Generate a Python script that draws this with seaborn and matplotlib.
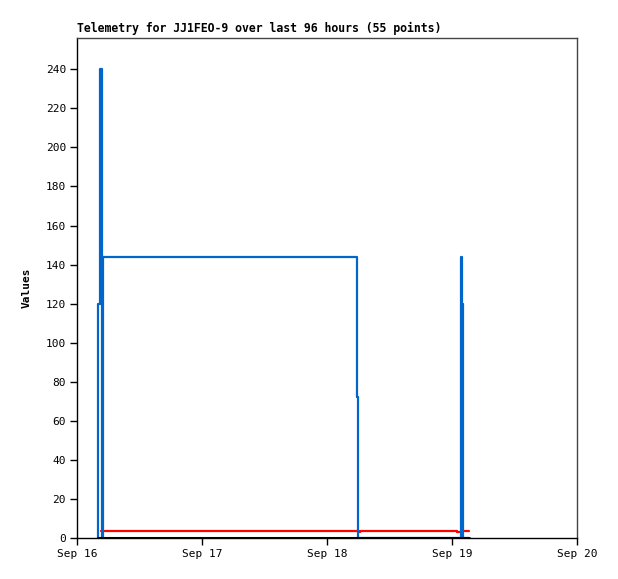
import pandas as pd
import matplotlib
matplotlib.use("Agg")
import matplotlib.pyplot as plt
import matplotlib.dates as mdates
import seaborn as sns

# hours after Sep 16 00:00
start = pd.Timestamp("2024-09-16 00:00")
blue_hours = [3.98, 4.03, 4.42, 4.72, 5.00, 53.76, 53.95, 73.73, 73.92, 74.11, 75.26]
blue_vals = [0, 120, 240, 0, 144, 72, 0, 144, 120, 0, 0]
red_hours = [4.60, 53.95, 54.40, 72.90, 73.70, 75.30]
red_vals = [3.7, 3.2, 3.7, 3.2, 3.7, 3.7]
black_hours = [3.98, 75.26]
black_vals = [0, 0]

def frame(hours, vals):
    return pd.DataFrame({"time": start + pd.to_timedelta(hours, unit="h"), "value": vals})

blue = frame(blue_hours, blue_vals)
red = frame(red_hours, red_vals)
black = frame(black_hours, black_vals)

sns.set_style("white")
plt.rcParams["font.family"] = ["DejaVu Sans Mono"]
plt.rcParams["text.color"] = "black"
plt.rcParams["xtick.color"] = "black"
plt.rcParams["ytick.color"] = "black"
plt.rcParams["axes.labelcolor"] = "black"

fig = plt.figure(figsize=(6.18, 5.79), dpi=100)
ax = fig.add_axes([77 / 618, 1 - 538 / 579, 500 / 618, 500 / 579])

sns.lineplot(data=red, x="time", y="value", color="#ff0000", linewidth=1.6,
             drawstyle="steps-post", ax=ax)
sns.lineplot(data=blue, x="time", y="value", color="#0066cc", linewidth=1.6,
             drawstyle="steps-post", ax=ax)
sns.lineplot(data=black, x="time", y="value", color="black", linewidth=2.2,
             drawstyle="steps-post", ax=ax)

ax.set_xlim(start, start + pd.Timedelta(days=4))
ax.set_ylim(0, 256)
ax.set_yticks(range(0, 241, 20))
ax.xaxis.set_major_locator(mdates.DayLocator())
ax.xaxis.set_major_formatter(mdates.DateFormatter("%b %d"))

ax.tick_params(axis="both", direction="out", length=5, width=1, labelsize=8,
               left=True, bottom=True, color="black", labelcolor="black", pad=3)
for s in ["left", "bottom"]:
    ax.spines[s].set_color("black")
    ax.spines[s].set_linewidth(1)
for s in ["top", "right"]:
    ax.spines[s].set_color("#444444")
    ax.spines[s].set_linewidth(1)

ax.set_xlabel("")
ax.set_ylabel("Values", fontsize=8, fontweight="bold", labelpad=10, color="black")
ax.set_title("Telemetry for JJ1FEO-9 over last 96 hours (55 points)",
             loc="left", fontsize=8.3, fontweight="bold", pad=4, color="black")

fig.savefig("out.png", dpi=100)
